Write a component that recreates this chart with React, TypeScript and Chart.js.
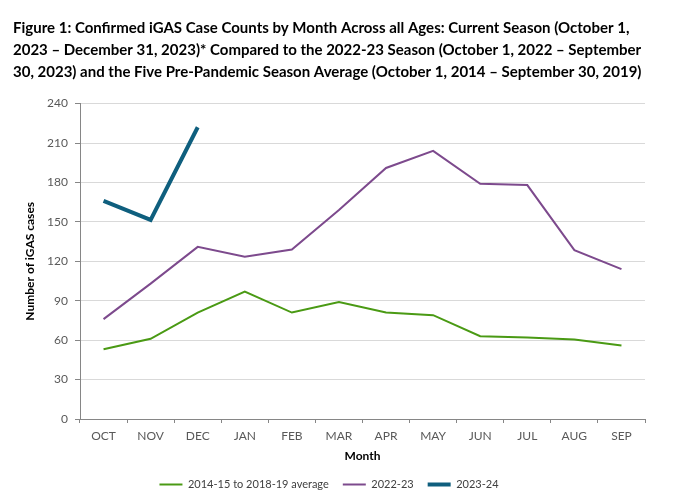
import React, { useEffect, useRef } from "react";
import { Chart, registerables } from "chart.js";

Chart.register(...registerables);

const months = ["OCT", "NOV", "DEC", "JAN", "FEB", "MAR", "APR", "MAY", "JUN", "JUL", "AUG", "SEP"];
const avgPrePandemic = [53, 61, 81, 97, 81, 89, 81, 79, 63, 62, 60.5, 56];
const season2022 = [76, 103, 131, 123.5, 129, 159, 191, 204, 179, 178, 128.5, 114];
const season2023 = [166, 151.5, 222, null, null, null, null, null, null, null, null, null];

const titleLines = [
  "Figure 1: Confirmed iGAS Case Counts by Month Across all Ages: Current Season (October 1,",
  "2023 \u2013 December 31, 2023)* Compared to the 2022-23 Season (October 1, 2022 \u2013 September",
  "30, 2023) and the Five Pre-Pandemic Season Average (October 1, 2014 \u2013 September 30, 2019)",
];

const FONT = "Lato, 'Open Sans', sans-serif";

export default function App() {
  const ref = useRef<HTMLCanvasElement | null>(null);
  useEffect(() => {
    if (!ref.current) return;
    const chart = new Chart(ref.current, {
      type: "line",
      data: {
        labels: months,
        datasets: [
          {
            label: "2014-15 to 2018-19 average",
            data: avgPrePandemic,
            borderColor: "#4a9a14",
            backgroundColor: "#4a9a14",
            borderWidth: 2,
            pointRadius: 0,
            tension: 0,
          },
          {
            label: "2022-23",
            data: season2022,
            borderColor: "#7d4a8d",
            backgroundColor: "#7d4a8d",
            borderWidth: 2,
            pointRadius: 0,
            tension: 0,
          },
          {
            label: "2023-24",
            data: season2023,
            borderColor: "#0f5f7e",
            backgroundColor: "#0f5f7e",
            borderWidth: 4,
            pointRadius: 0,
            tension: 0,
            spanGaps: false,
          },
        ],
      },
      options: {
        responsive: false,
        animation: false,
        layout: { padding: { left: 13, right: 35, top: 0, bottom: 4 } },
        plugins: {
          title: {
            display: true,
            text: titleLines,
            align: "start",
            color: "#000000",
            font: { family: FONT, size: 15, weight: "bold", lineHeight: 1.48 },
            padding: { top: 17, bottom: 20 },
          },
          legend: {
            position: "bottom",
            labels: {
              usePointStyle: true,
              pointStyle: "line",
              pointStyleWidth: 23,
              color: "#404040",
              font: { family: FONT, size: 11 },
              padding: 14,
            },
          },
          tooltip: { enabled: false },
        },
        scales: {
          x: {
            offset: true,
            grid: {
              offset: true,
              drawOnChartArea: false,
              drawTicks: true,
              tickLength: 4,
              color: "#868686",
            },
            border: { color: "#868686", width: 1 },
            ticks: { color: "#595959", font: { family: FONT, size: 12 }, padding: 6 },
            title: {
              display: true,
              text: "Month",
              color: "#000000",
              font: { family: FONT, size: 12, weight: "bold" },
              padding: { top: 4, bottom: 2 },
            },
            afterFit: (scale: any) => {
              scale.height = 46;
            },
          },
          y: {
            min: 0,
            max: 240,
            ticks: {
              stepSize: 30,
              color: "#595959",
              font: { family: FONT, size: 12 },
              padding: 7,
            },
            grid: {
              color: "#d9d9d9",
              tickColor: "#868686",
              tickLength: 5,
            },
            border: { color: "#868686", width: 1 },
            title: {
              display: true,
              text: "Number of iGAS cases",
              color: "#000000",
              font: { family: FONT, size: 12, weight: "bold" },
              padding: { top: 10, bottom: 0 },
            },
            afterFit: (scale: any) => {
              scale.width = 67;
            },
          },
        },
      },
    });
    return () => chart.destroy();
  }, []);
  return (
    <div style={{ position: "fixed", left: 0, top: 0, width: 680, height: 504, background: "#fff" }}>
      <canvas ref={ref} width={680} height={504} style={{ width: 680, height: 504 }} />
    </div>
  );
}
